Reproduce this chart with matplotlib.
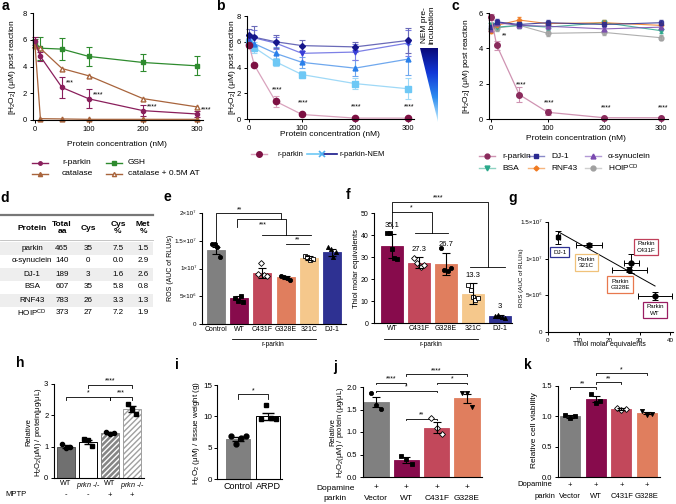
import numpy as np
import matplotlib
matplotlib.use('Agg')
import matplotlib.pyplot as plt
from matplotlib.patches import Rectangle, Polygon
from matplotlib.colors import LinearSegmentedColormap

plt.rcParams['font.family'] = ['Liberation Sans', 'DejaVu Sans']
plt.rcParams['mathtext.fontset'] = 'custom'
plt.rcParams['mathtext.rm'] = 'Liberation Sans'
plt.rcParams['mathtext.it'] = 'Liberation Sans:italic'
plt.rcParams['font.size'] = 5.5
plt.rcParams['axes.linewidth'] = 0.8

W, H = 676, 504

# ---------------- data ----------------
conc = [0, 10, 50, 100, 200, 300]

# a
a_parkin = [5.9, 4.75, 2.43, 1.58, 0.7, 0.45]
a_parkin_err = [0.3, 0.35, 0.8, 0.72, 0.42, 0.22]
a_gsh = [5.75, 5.37, 5.3, 4.75, 4.3, 4.05]
a_gsh_err = [0.3, 0.85, 0.85, 0.7, 0.6, 0.7]
a_cat = [5.6, 0.1, 0.08, 0.05, 0.05, 0.05]
a_cat_at = [5.5, 5.35, 3.85, 3.3, 1.6, 0.98]
a_stars = ['', '', '***', '****', '****', '****']

# b
b_parkin = [5.78, 4.19, 1.38, 0.35, 0.07, 0.07]
b_parkin_err = [0.2, 0.15, 0.42, 0.15, 0.05, 0.05]
b_nem1 = [6.0, 5.55, 4.45, 3.45, 2.75, 2.35]
b_nem1_err = [0.25, 0.4, 0.3, 0.3, 0.45, 0.8]
b_nem2 = [6.1, 5.85, 5.1, 4.4, 3.95, 4.65]
b_nem2_err = [0.2, 0.6, 0.5, 0.45, 0.6, 1.2]
b_nem3 = [6.3, 6.3, 5.9, 5.1, 5.2, 5.9]
b_nem3_err = [0.3, 0.6, 0.5, 0.6, 0.6, 1.0]
b_nem4 = [6.5, 6.35, 6.0, 5.7, 5.6, 6.1]
b_nem4_err = [0.5, 0.9, 0.5, 0.45, 0.4, 1.0]
b_stars = ['', '', '****', '****', '****', '****']

# c
c_parkin = [5.78, 4.18, 1.38, 0.38, 0.07, 0.07]
c_parkin_err = [0.15, 0.25, 0.42, 0.18, 0.04, 0.04]
c_dj1 = [5.2, 5.5, 5.35, 5.45, 5.35, 5.45]
c_asyn = [5.1, 5.45, 5.3, 5.25, 5.1, 5.2]
c_bsa = [5.3, 5.2, 5.3, 5.2, 5.45, 5.0]
c_rnf = [5.0, 5.3, 5.6, 5.4, 5.45, 5.3]
c_hoip = [5.1, 5.15, 5.3, 4.85, 4.9, 4.6]
c_stars = ['', '**', '****', '****', '****', '****']

# d table
tbl_protein = ['parkin', 'α-synuclein', 'DJ-1', 'BSA', 'RNF43', 'HOIP$^{\\rm CD}$']
tbl_total = [465, 140, 189, 607, 783, 373]
tbl_cys = [35, 0, 3, 35, 26, 27]
tbl_cyspct = ['7.5', '0.0', '1.6', '5.8', '3.3', '7.2']
tbl_met = ['1.5', '2.9', '2.6', '0.8', '1.3', '1.9']

# e
e_labels = ['Control', 'WT', 'C431F', 'G328E', '321C', 'DJ-1']
e_vals = [1.33e7, 4.7e6, 9.2e6, 8.4e6, 1.19e7, 1.29e7]
e_err = [0.6e6, 0.4e6, 0.9e6, 0.3e6, 0.3e6, 0.7e6]
e_pts = [[1.45e7, 1.45e7, 1.39e7, 1.21e7],
         [4.7e6, 4.2e6, 5.0e6, 4.0e6],
         [9.0e6, 1.1e7, 8.9e6, 8.7e6],
         [8.7e6, 8.4e6, 8.2e6, 8.0e6],
         [1.23e7, 1.2e7, 1.15e7, 1.17e7],
         [1.38e7, 1.35e7, 1.2e7, 1.3e7]]

# f
f_labels = ['WT', 'C431F', 'G328E', '321C', 'DJ-1']
f_vals = [35.1, 27.3, 26.7, 13.3, 3]
f_err = [5.5, 2.5, 5.0, 4.7, 0.5]
f_pts = [[40.8, 40.8, 33.6, 29.5, 29.1],
         [29.5, 27.5, 25.5, 26.5],
         [34.0, 24.0, 23.5, 25.0],
         [17.5, 15.0, 12.0, 10.5, 11.5],
         [3.3, 3.5, 2.8, 2.5]]

# g
g_names = ['DJ-1', 'Parkin\n321C', 'Parkin\nC431F', 'Parkin\nG328E', 'Parkin\nWT']
g_thiol = [3.3, 13.4, 27.3, 26.7, 35.1]
g_thiol_err = [0.5, 4.3, 2.4, 5.7, 5.5]
g_ros = [1.29e7, 1.19e7, 9.4e6, 8.5e6, 4.9e6]
g_ros_err = [0.9e6, 0.3e6, 1.3e6, 0.3e6, 0.6e6]

# h
h_vals = [1.0, 1.15, 1.43, 2.2]
h_err = [0.05, 0.07, 0.03, 0.1]
h_pts = [[1.07, 0.95, 0.98], [1.24, 1.22, 1.03], [1.47, 1.42, 1.44], [2.35, 2.2, 2.05]]
h_mptp = ['-', '-', '+', '+']

# i
i_labels = ['Control', 'ARPD']
i_vals = [6.4, 10.0]
i_err = [0.35, 0.55]
i_pts = [[6.9, 5.6, 6.5, 6.8], [9.5, 11.8, 9.8, 9.6]]

# j
jk_parkin = ['Vector', 'WT', 'C431F', 'G328E']
j_vals = [1.66, 0.38, 1.10, 1.75]
j_err = [0.11, 0.06, 0.12, 0.1]
j_pts = [[1.87, 1.6, 1.52], [0.47, 0.41, 0.28], [1.32, 1.1, 0.95], [1.87, 1.87, 1.55]]

# k
k_vals = [1.0, 1.28, 1.12, 1.05]
k_err = [0.03, 0.05, 0.015, 0.015]
k_pts = [[1.02, 0.98, 1.0], [1.37, 1.22, 1.25], [1.14, 1.1, 1.12], [1.08, 1.03, 1.04]]

# ---------------- colours ----------------
PARKIN = '#8a1f5c'
GSH = '#2e8b2e'
CAT = '#a8643c'
GRAY = '#808080'
WT = '#870b4c'
C431 = '#c2485b'
G328 = '#e07e5e'
C321 = '#f5c88c'
DJ1 = '#2e3192'
bar_cols = [GRAY, WT, C431, G328, C321, DJ1]

fig = plt.figure(figsize=(W / 100, H / 100), dpi=100)


def place(xlim, ylim, xref, yref):
    (v1, p1), (v2, p2) = xref
    s = (p2 - p1) / (v2 - v1)
    l = p1 + (xlim[0] - v1) * s
    r = p1 + (xlim[1] - v1) * s
    (w1, q1), (w2, q2) = yref
    t_ = (q2 - q1) / (w2 - w1)
    b = q1 + (ylim[0] - w1) * t_
    t = q1 + (ylim[1] - w1) * t_
    ax = fig.add_axes([l / W, 1 - b / H, (r - l) / W, (b - t) / H])
    ax.set_xlim(xlim)
    ax.set_ylim(ylim)
    for sp in ['top', 'right']:
        ax.spines[sp].set_visible(False)
    ax.patch.set_alpha(0)
    ax.tick_params(labelsize=5.5, length=2.5, width=0.7, pad=1.5)
    return ax


def bracket(ax, x1, x2, y, h, txt, fs=5):
    ax.plot([x1, x1, x2, x2], [y - h, y, y, y - h], color='k', lw=0.6, clip_on=False)
    ax.text((x1 + x2) / 2, y, txt, ha='center', va='bottom', fontsize=fs)


def bar_panel(ax, vals, errs, cols, width, pts, markers, fills, edge=None):
    x = np.arange(len(vals))
    ax.bar(x, vals, width=width, color=cols, edgecolor=edge if edge else cols, lw=0.6, zorder=1)
    for i, p in enumerate(pts):
        off = np.linspace(-0.18, 0.18, len(p))
        ax.plot(i + off, p, markers[i], ms=3, color='k',
                mfc='k' if fills[i] else 'white', mew=0.6, ls='none', zorder=3)
    ax.errorbar(x, vals, yerr=errs, fmt='none', ecolor='k', elinewidth=0.8,
                capsize=3, capthick=0.8, zorder=4)


def line_series(ax, y, err, color, marker, ms=3.5, lc=None, mfc=None):
    ax.errorbar(conc, y, yerr=err, color=lc if lc else color, marker=marker, ms=ms,
                mfc=mfc if mfc else color, mec=color, lw=0.9, elinewidth=0.8,
                capsize=2, capthick=0.8, clip_on=False)


# ---------------- a ----------------
ax = place((-4, 312), (0, 8), ((0, 35), (300, 197)), ((0, 120), (8, 13)))
line_series(ax, a_gsh, a_gsh_err, GSH, 's')
line_series(ax, a_cat_at, None, CAT, '^', mfc='white')
line_series(ax, a_cat, None, CAT, '^')
line_series(ax, a_parkin, a_parkin_err, PARKIN, 'o', ms=3)
for xv, yv, s in zip(conc, a_parkin, a_stars):
    if s:
        ax.text(xv + 8, yv + 0.05, s, fontsize=5, va='bottom', ha='left')
ax.set_xticks([0, 100, 200, 300])
ax.set_yticks([0, 2, 4, 6, 8])

# ---------------- b ----------------
ax = place((-4, 312), (0, 8), ((0, 249), (300, 408)), ((0, 119), (8, 16)))
line_series(ax, b_nem1, b_nem1_err, '#6ec8f5', 's', ms=4, lc='#9fd9f7')
line_series(ax, b_nem2, b_nem2_err, '#2a80ea', '^', ms=3.5, lc='#6fa8ee')
line_series(ax, b_nem3, b_nem3_err, '#3a3fd8', 'v', ms=3.5, lc='#7d80e6')
line_series(ax, b_nem4, b_nem4_err, '#16168a', 'D', ms=3, lc='#6a6ab8')
line_series(ax, b_parkin, b_parkin_err, '#7d1143', 'o', ms=4.5, lc='#d9a3bd')
for xv, yv, s in zip(conc, b_parkin, b_stars):
    if s:
        ax.text(xv + 3, yv + 0.6, s, fontsize=5, ha='center', va='bottom')
ax.set_xticks([0, 100, 200, 300])
ax.set_yticks([0, 2, 4, 6, 8])

# ---------------- c ----------------
ax = place((-4, 312), (0, 6), ((0, 491), (300, 661)), ((0, 119), (6, 13)))
c_series = [(c_hoip, '#a0a0a0', 'o'), (c_bsa, '#2aa88a', 'v'), (c_rnf, '#f07a20', 'D'),
            (c_asyn, '#7a4ab0', '^'), (c_dj1, '#2a2a90', 's')]
for yv, col, mk in c_series:
    ax.errorbar(conc, yv, yerr=0.15, color=col, marker=mk, ms=3.5 if mk != 'D' else 2.5,
                lw=0.8, elinewidth=0.6, capsize=1.5, alpha=0.85, clip_on=False)
line_series(ax, c_parkin, c_parkin_err, '#8a2b5c', 'o', ms=4, lc='#cf93b2')
for xv, yv, s in zip(conc, c_parkin, c_stars):
    if s:
        ax.text(xv + (14 if s == '**' else 3), yv + 0.35, s, fontsize=5, ha='center', va='bottom')
ax.set_xticks([0, 100, 200, 300])
ax.set_yticks([0, 2, 4, 6])

# ---------------- e ----------------
ax = place((-0.6, 5.6), (0, 2.1e7), ((0, 216), (5, 332)), ((0, 324), (2e7, 213)))
bar_panel(ax, e_vals, e_err, bar_cols, 0.78, e_pts, ['o', 's', 'D', 'o', 's', '^'],
          [True, True, False, True, False, True])
ax.spines['left'].set_bounds(0, 2e7)
ax.set_yticks([0, 5e6, 1e7, 1.5e7, 2e7])
ax.set_yticklabels(['0', '5×10⁶', '1×10⁷', '1.5×10⁷', '2×10⁷'], fontsize=4.5)
ax.set_xticks(range(6))
ax.set_xticklabels(e_labels, fontsize=5)
ax.tick_params(axis='x', length=0)
ax.plot([0, 0, 2.8, 2.8], [1.48e7, 2.0e7, 2.0e7, 1.89e7], color='k', lw=0.6, clip_on=False)
ax.text(1.0, 2.0e7, '**', ha='center', va='bottom', fontsize=5)
ax.plot([0.9, 0.9, 3.0, 3.0], [1.75e7, 1.89e7, 1.89e7, 1.6e7], color='k', lw=0.6)
ax.plot([2.0, 4.1], [1.6e7, 1.6e7], color='k', lw=0.6)
ax.text(2.0, 1.72e7, '***', ha='center', va='bottom', fontsize=5)
bracket(ax, 3, 4, 1.45e7, 0, '**')

# ---------------- f ----------------
ax = place((-0.67, 4.45), (0, 57), ((0, 392), (4, 500)), ((0, 323), (50, 213)))
bar_panel(ax, f_vals, f_err, bar_cols[1:], 0.82, f_pts, ['s', 'D', 'o', 's', '^'],
          [True, False, True, False, True])
for i, (v, e) in enumerate(zip(f_vals, f_err)):
    ax.text(i, v + e + 2.2, str(v), ha='center', va='bottom', fontsize=5.5)
ax.spines['left'].set_bounds(0, 50)
ax.set_yticks([0, 10, 20, 30, 40, 50])
ax.tick_params(axis='y', labelsize=5)
ax.set_xticks(range(5))
ax.set_xticklabels(f_labels, fontsize=5)
ax.tick_params(axis='x', length=0)
ax.plot([0, 0, 3.56, 3.56], [43, 55, 55, 25.5], color='k', lw=0.6, clip_on=False)
ax.plot([2.9, 4.2], [25.5, 25.5], color='k', lw=0.6)
ax.text(1.7, 55.3, '****', ha='center', va='bottom', fontsize=5)
ax.plot([0, 1.48, 1.48], [50.5, 50.5, 40.9], color='k', lw=0.6)
ax.plot([0.85, 2.07], [40.9, 40.9], color='k', lw=0.6)
ax.text(0.7, 50.8, '*', ha='center', va='bottom', fontsize=5)

# ---------------- g ----------------
ax = place((0, 41), (0, 1.55e7), ((0, 548), (40, 670)), ((0, 332), (1.5e7, 222)))
ax.errorbar(g_thiol, g_ros, xerr=g_thiol_err, yerr=g_ros_err, fmt='none', ecolor='k',
            elinewidth=0.7, capsize=2, capthick=0.7)
ax.plot(g_thiol[:1], g_ros[:1], 's', color='k', ms=3.5)
ax.plot(g_thiol[1:], g_ros[1:], 'o', color='k', ms=3.5)
k_fit, b_fit = np.polyfit(g_thiol, g_ros, 1)
xs = np.array([min(g_thiol), max(g_thiol)])
ax.plot(xs, k_fit * xs + b_fit, color='k', lw=0.7)
ax.spines['left'].set_bounds(0, 1.5e7)
ax.set_yticks([0, 5e6, 1e7, 1.5e7])
ax.set_yticklabels(['0', '5×10⁶', '1×10⁷', '1.5×10⁷'], fontsize=4.2)
ax.set_xticks([0, 10, 20, 30, 40])
ax.tick_params(labelsize=4.5)
g_box_cols = [DJ1, '#f0c27a', '#c0405a', '#e8784e', '#9a1d62']
g_box_pos = [(3.9, 1.09e7), (12.5, 0.95e7), (32.1, 1.16e7), (23.6, 0.65e7), (35.1, 0.3e7)]
for name, col, (px, py) in zip(g_names, g_box_cols, g_box_pos):
    ax.text(px, py, name, fontsize=4.5, ha='center', va='center', linespacing=1.3,
            bbox=dict(boxstyle='square,pad=0.45', fc='white', ec=col, lw=0.9), clip_on=False)

# ---------------- h ----------------
ax = place((-0.55, 3.55), (0, 3.1), ((0, 66), (3, 132)), ((0, 478), (3, 384)))
x = np.arange(4)
ax.bar(x, h_vals, width=0.82, color=['#707070', 'white', '#858585', 'white'],
       edgecolor=['#505050', 'k', 'white', '#a0a0a0'], lw=0.7,
       hatch=['', '', '//////', '//////'], zorder=1)
ax.bar(x[2:3], h_vals[2:3], width=0.82, color='none', edgecolor='#858585', lw=0.7, zorder=2)
for i, p in enumerate(h_pts):
    off = np.linspace(-0.18, 0.18, len(p))
    ax.plot(i + off, p, 'os'[i % 2], ms=3, color='k', ls='none', zorder=3)
ax.errorbar(x, h_vals, yerr=h_err, fmt='none', ecolor='k', elinewidth=0.8, capsize=3, zorder=4)
ax.spines['left'].set_bounds(0, 3)
ax.set_yticks([0, 1, 2, 3])
ax.set_xticks(x)
ax.set_xticklabels(['WT', '$\\it{prkn}$ -/-', 'WT', '$\\it{prkn}$ -/-'], fontsize=5.2)
ax.tick_params(axis='x', length=0, pad=1.5)
bracket(ax, 1, 3, 2.98, 0.1, '****')
bracket(ax, 0, 2, 2.6, 0.1, '*')
bracket(ax, 2, 3, 2.6, 0.1, '***')

# ---------------- i ----------------
ax = place((-0.7, 1.47), (0, 15.5), ((0, 238), (1, 268)), ((0, 479), (15, 385)))
ax.bar([0, 1], i_vals, width=0.83, color=['#808080', 'white'], edgecolor=['#808080', 'k'], lw=0.7)
for i, p in enumerate(i_pts):
    off = np.linspace(-0.25, 0.25, len(p))
    ax.plot(i + off, p, 'os'[i], ms=3.5, color='k', ls='none', zorder=3)
ax.errorbar([0, 1], i_vals, yerr=i_err, fmt='none', ecolor='k', elinewidth=0.8, capsize=4, zorder=4)
ax.spines['left'].set_bounds(0, 15)
ax.set_yticks([0, 5, 10, 15])
ax.set_xticks([0, 1])
ax.set_xticklabels(i_labels, fontsize=6.5)
ax.tick_params(axis='y', labelsize=5.8, pad=1)
ax.tick_params(axis='x', length=0, pad=2)
bracket(ax, 0, 1, 13.5, 0.7, '*')

# ---------------- j ----------------
ax = place((-0.43, 3.5), (0, 2.45), ((0, 376), (3, 467)), ((0, 477), (2, 387)))
bar_panel(ax, j_vals, j_err, [GRAY, WT, C431, G328], 0.83, j_pts, ['o', 's', 'D', 'v'],
          [True, True, False, True])
ax.spines['left'].set_bounds(0, 2)
ax.set_yticks([0, 0.5, 1.0, 1.5, 2.0])
ax.set_yticklabels(['0.0', '0.5', '1.0', '1.5', '2.0'])
ax.set_xticks([])
bracket(ax, 1, 3, 2.28, 0.03, '****')
bracket(ax, 0, 1, 2.10, 0.03, '****')
bracket(ax, 2, 3, 2.10, 0.03, '*')
bracket(ax, 0, 2, 1.92, 0.03, '*')
bracket(ax, 1, 2, 1.30, 0.03, '**')

# ---------------- k ----------------
ax = place((-0.47, 3.5), (0, 1.75), ((0, 570), (3, 647)), ((0, 477), (1.5, 386)))
bar_panel(ax, k_vals, k_err, [GRAY, WT, C431, G328], 0.78, k_pts, ['s', 's', 'D', 'v'],
          [True, True, False, True])
ax.spines['left'].set_bounds(0, 1.5)
ax.set_yticks([0, 0.5, 1.0, 1.5])
ax.set_yticklabels(['0.0', '0.5', '1.0', '1.5'])
ax.set_xticks([])
bracket(ax, 0, 1, 1.48, 0.03, '**')
bracket(ax, 1, 2, 1.56, 0.03, '**')
bracket(ax, 1, 3, 1.71, 0.03, '*')

# ---------------- overlay (pixel coordinates) ----------------
ov = fig.add_axes([0, 0, 1, 1])
ov.set_xlim(0, W)
ov.set_ylim(H, 0)
ov.axis('off')


def t(x, y, s, **kw):
    kw.setdefault('ha', 'center')
    kw.setdefault('va', 'center')
    ov.text(x, y, s, **kw)


for lab, (px, py) in zip('abcdefghijk', [(5, 6), (220, 6), (455, 6), (5, 198), (167, 197),
                                          (348, 195), (513, 198), (20, 363), (177, 365),
                                          (335, 367), (528, 365)]):
    t(px, py, lab, fontsize=10, fontweight='bold')

ylab = '[H$_2$O$_2$] (μM) post reaction'
t(13, 67, ylab, rotation=90, fontsize=6)
t(233, 67, ylab, rotation=90, fontsize=6)
t(466, 66, ylab, rotation=90, fontsize=6)
t(117, 145, 'Protein concentration (nM)', fontsize=6)
t(330, 135, 'Protein concentration (nM)', fontsize=6)
t(576, 139, 'Protein concentration (nM)', fontsize=6)
t(171, 268, 'ROS (AUC of RLU/s)', rotation=90, fontsize=5)
t(357, 268, 'Thiol molar equivalents', rotation=90, fontsize=5.5)
t(522, 278, 'ROS (AUC of RLU/s)', rotation=90, fontsize=4.5)
t(609, 345, 'Thiol molar equivalents', fontsize=5)
t(29, 432, 'Relative', rotation=90, fontsize=5.5)
t(38, 432, 'H$_2$O$_2$(μM) / protein(μg/μL)', rotation=90, fontsize=5.5)
t(196, 433, 'H$_2$O$_2$ (μM) / tissue weight (g)', rotation=90, fontsize=5.8)
t(333, 432, 'Relative', rotation=90, fontsize=5.5)
t(341, 432, 'H$_2$O$_2$(μM) / protein (μg/μL)', rotation=90, fontsize=5.5)
t(535, 430, 'Relative cell viability', rotation=90, fontsize=6)

# r-parkin underlines for e and f
ov.plot([232, 316], [339, 339], color='k', lw=0.6)
t(273, 345, 'r-parkin', fontsize=4.8)
ov.plot([384, 478], [339, 339], color='k', lw=0.6)
t(431, 345, 'r-parkin', fontsize=4.8)

# h MPTP row
t(5, 495, 'MPTP', ha='left', fontsize=5.5)
for xp, s in zip([66, 88, 110, 132], h_mptp):
    t(xp, 495, s, fontsize=5.5)

# j and k rows
for xs_, dop_x, par_x, yd, yp, fs in [([376, 406, 437, 467], 355, 347, 488, 499, 6),
                                       ([570, 596, 622, 647], 552, 555, 485, 496, 5.5)]:
    t(dop_x, yd, 'Dopamine', ha='right', fontsize=fs)
    t(par_x, yp, 'parkin', ha='right', fontsize=fs)
    for xp, nm in zip(xs_, jk_parkin):
        t(xp, yd, '+', fontsize=fs)
        t(xp, yp, nm, fontsize=fs)


# legends
def glyph(x, y, col, mk, ms=3.5, lc=None, mfc=None, half=8):
    ov.plot([x - half, x + half], [y, y], color=lc if lc else col, lw=1.0)
    ov.plot([x], [y], marker=mk, color=col, ms=ms, mfc=mfc if mfc else col, mec=col)


glyph(40, 162.5, PARKIN, 'o', ms=2.5)
t(62, 162.5, 'r-parkin', ha='left', fontsize=6)
glyph(114, 162.5, GSH, 's', ms=3)
t(128, 162.5, 'GSH', ha='left', fontsize=6)
glyph(40, 173.5, CAT, '^', ms=3)
t(62, 173.5, 'catalase', ha='left', fontsize=6)
glyph(114, 173.5, CAT, '^', ms=3, mfc='white')
t(128, 173.5, 'catalase + 0.5M AT', ha='left', fontsize=6)

glyph(259, 154, '#7d1143', 'o', ms=4, lc='#d9a3bd')
t(278, 154, 'r-parkin', ha='left', fontsize=5.5)
ov.plot([307, 322], [154, 154], color='#6ec8f5', lw=1.2)
ov.plot([322, 337], [154, 154], color='#16168a', lw=1.2)
ov.plot([322], [154], marker='x', color='#4fb0f0', ms=5, mew=1.2)
t(340, 154, 'r-parkin-NEM', ha='left', fontsize=5.5)

for (gx, gy), (nm, col, mk, lc) in zip(
        [(487, 156), (536, 156), (593, 156), (487, 168), (536, 168), (593, 168)],
        [('r-parkin', '#8a2b5c', 'o', '#cf93b2'), ('DJ-1', '#2a2a90', 's', '#8a8ac8'),
         ('α-synuclein', '#7a4ab0', '^', '#b39ad6'), ('BSA', '#2aa88a', 'v', '#8fd3c2'),
         ('RNF43', '#f07a20', 'D', '#f6b57f'), ('HOIP$^{\\rm CD}$', '#a0a0a0', 'o', '#cfcfcf')]):
    glyph(gx, gy, col, mk, ms=3.5 if mk != 'D' else 2.5, lc=lc)
    t(gx + 15, gy, nm, ha='left', fontsize=6)

# NEM gradient triangle
cmap = LinearSegmentedColormap.from_list('nem', ['#0a0a7a', '#1238d8', '#2c8cf0', '#c8f0ff'])
grad = np.linspace(0, 1, 100).reshape(-1, 1)
im = ov.imshow(grad, extent=(420, 438, 122, 48), cmap=cmap, aspect='auto', origin='upper')
tri = Polygon([(420, 48), (438, 48), (438, 122)], closed=True, transform=ov.transData)
im.set_clip_path(tri)
ov.set_xlim(0, W)
ov.set_ylim(H, 0)
t(428, 25, 'NEM pre-\nincubation', rotation=90, fontsize=6, linespacing=1.0)

# d table
ov.plot([0, 153], [215, 215], color='#777777', lw=1.6)
ov.plot([0, 153], [240, 240], color='#bbbbbb', lw=0.6)
col_x = [32, 62, 88, 118, 143]
heads = ['Protein', 'Total\naa', 'Cys', 'Cys\n%', 'Met\n%']
for cx, hd in zip(col_x, heads):
    t(cx, 228, hd, fontsize=6, fontweight='bold', linespacing=1.0)
for r in range(len(tbl_protein)):
    ry = 248 + r * 13
    if r % 2 == 0:
        ov.add_patch(Rectangle((0, ry - 6.5), 153, 13, color='#eeeeee', lw=0, zorder=0))
    row = [tbl_protein[r], str(tbl_total[r]), str(tbl_cys[r]), tbl_cyspct[r], tbl_met[r]]
    for cx, v in zip(col_x, row):
        t(cx, ry, v, fontsize=5.8)

fig.savefig('out.png', dpi=100)
